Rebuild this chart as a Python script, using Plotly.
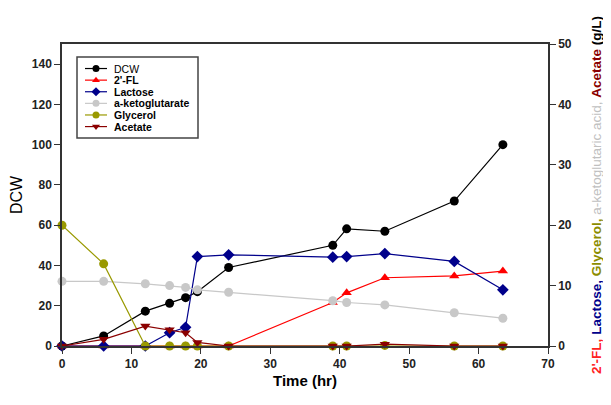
import plotly.graph_objects as go

time = [0, 6, 12, 15.5, 17.8, 19.5, 24, 39, 41, 46.5, 56.5, 63.5]
dcw = [0, 5, 17.3, 21.2, 24, 27, 39, 50, 58.2, 57, 72, 100]
fl2 = [0, 0, 0, 0, 0, 0, 0, 7.2, 8.8, 11.3, 11.6, 12.4]
lactose = [0, 0, 0, 2.2, 3.1, 14.8, 15.1, 14.7, 14.8, 15.3, 14.0, 9.3]
akg = [10.7, 10.7, 10.3, 10.0, 9.7, 9.3, 8.9, 7.5, 7.2, 6.8, 5.5, 4.6]
glycerol = [20, 13.6, 0, 0, 0, 0, 0, 0, 0, 0.1, 0, 0]
acetate = [0, 1.1, 3.3, 2.7, 2.2, 0.6, 0, 0, 0, 0.3, 0, 0]

left_ticks = [0, 20, 40, 60, 80, 100, 120, 140]
right_ticks = [0, 10, 20, 30, 40, 50]
x_ticks = [0, 10, 20, 30, 40, 50, 60, 70]

legend_labels = ["DCW", "<b>2'-FL</b>", "<b>Lactose</b>", "<b>a-ketoglutarate</b>", "<b>Glycerol</b>", "<b>Acetate</b>"]

FONT = "Liberation Sans, Arial, sans-serif"

series = [
    (dcw, "#000000", "circle", "y"),
    (fl2, "#ff0000", "triangle-up", "y2"),
    (lactose, "#00008b", "diamond", "y2"),
    (akg, "#c8c8c8", "circle", "y2"),
    (glycerol, "#999900", "circle", "y2"),
    (acetate, "#8b0000", "triangle-down", "y2"),
]

fig = go.Figure()
for (y, color, symbol, axis), label in zip(series, legend_labels):
    fig.add_trace(go.Scatter(
        x=time, y=y, name=label, mode="lines+markers",
        line=dict(color=color, width=1.2),
        marker=dict(color=color, symbol=symbol, size=9),
        yaxis=axis, cliponaxis=False, showlegend=False,
    ))

# ---- custom compact legend (paper coordinates of the plot area) ----
PW, PH = 486.0, 301.7            # plot area size in px
box_x0, box_x1 = 15 / PW, 136 / PW
box_y1, box_y0 = 1 - 13 / PH, 1 - 94 / PH
row_top, row_step = 1 - 24.5 / PH, 11.6 / PH
seg_x0, seg_x1, sym_x, txt_x = 23 / PW, 45 / PW, 34 / PW, 50 / PW

fig.add_shape(type="rect", xref="paper", yref="paper", x0=box_x0, x1=box_x1, y0=box_y0, y1=box_y1,
              line=dict(color="#444444", width=1.5), fillcolor="white", layer="below")
for i, ((y, color, symbol, axis), label) in enumerate(zip(series, legend_labels)):
    yy = row_top - i * row_step
    fig.add_shape(type="line", xref="paper", yref="paper", x0=seg_x0, x1=seg_x1, y0=yy, y1=yy,
                  line=dict(color=color, width=1.2), layer="below")
    fig.add_annotation(text=label, xref="paper", yref="paper", x=txt_x, y=yy, xanchor="left",
                       yanchor="middle", showarrow=False,
                       font=dict(family=FONT, size=10.5, color="#000000"))
    fig.add_trace(go.Scatter(x=[sym_x], y=[yy], xaxis="x3", yaxis="y3", mode="markers",
                             marker=dict(color=color, symbol=symbol, size=7),
                             showlegend=False, hoverinfo="skip", cliponaxis=False))

tickfont = dict(family=FONT, size=12, color="#222222")
axis_common = dict(showgrid=False, zeroline=False, showline=True, linecolor="#333333", linewidth=1.5,
                   ticks="outside", ticklen=6, tickcolor="#333333", tickfont=tickfont, automargin=False)

right_title = (
    "<b><span style='color:#ff2020'>2'-FL,</span> "
    "<span style='color:#00008b'>Lactose,</span> "
    "<span style='color:#8c8c00'>Glycerol,</span></b> "
    "<span style='color:#c0c0c0'>a-ketoglutaric acid,</span> "
    "<b><span style='color:#8b0000'>Acetate</span> (g/L)</b>"
)

# page body has an 8px default margin, so the figure is 8px smaller than the window
fig.update_layout(
    width=603, height=397,
    margin=dict(l=54, r=63, t=36, b=59),
    paper_bgcolor="white", plot_bgcolor="white",
    font=dict(family=FONT, color="#000000"),
    showlegend=False,
    xaxis=dict(range=[0, 70], tickvals=x_ticks, ticktext=[f"<b>{v}</b>" for v in x_ticks], mirror=True,
               title=dict(text="<b>Time (hr)</b>", font=dict(family=FONT, size=15), standoff=5),
               **axis_common),
    yaxis=dict(range=[0, 150], tickvals=left_ticks, ticktext=[f"<b>{v}</b>" for v in left_ticks],
               title=dict(text="DCW", font=dict(family=FONT, size=16), standoff=9), **axis_common),
    yaxis2=dict(range=[0, 50], tickvals=right_ticks, ticktext=[f"<b>{v}</b>" for v in right_ticks],
                overlaying="y", side="right",
                title=dict(text=right_title, font=dict(family=FONT, size=13.5), standoff=21),
                **axis_common),
    xaxis3=dict(domain=[0, 1], range=[0, 1], visible=False, overlaying="x", anchor="y3"),
    yaxis3=dict(domain=[0, 1], range=[0, 1], visible=False, overlaying="y", anchor="x3"),
)

fig.write_html("out.html")
